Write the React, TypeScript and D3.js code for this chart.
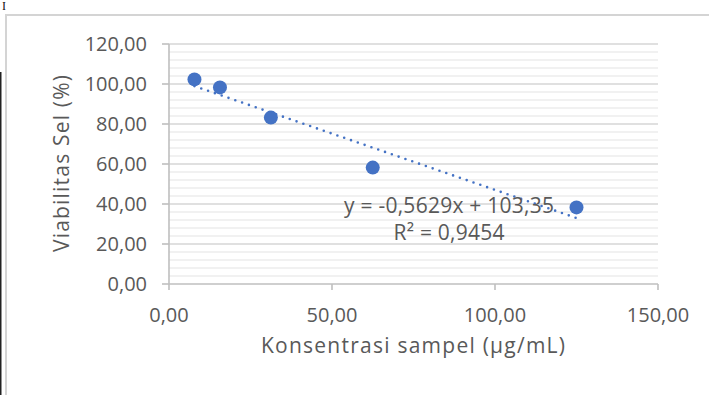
import React from "react";
import * as d3 from "d3";

const concentrations = [7.81, 15.63, 31.25, 62.5, 125];
const viability = [102.3, 98.3, 83.2, 58.2, 38.3];
const slope = -0.5629;
const intercept = 103.35;
const equationLines = ["y = -0,5629x + 103,35", "R² = 0,9454"];
const xTicks = [0, 50, 100, 150];
const yTicks = [0, 20, 40, 60, 80, 100, 120];
const xTitle = "Konsentrasi sampel (µg/mL)";
const yTitle = "Viabilitas Sel (%)";

const W = 709;
const H = 395;
const left = 169;
const right = 658;
const top = 44;
const bottom = 284;
const FONT = "'Open Sans', Lato, sans-serif";
const TXT = "#595959";
const BLUE = "#4472c4";
const FS = 20;
const FT = 21;
const eqWidths = [210, 111];

const fmt = (v: number) => v.toFixed(2).replace(".", ",");

export default function App() {
  const x = d3.scaleLinear().domain([0, 150]).range([left, right]);
  const y = d3.scaleLinear().domain([0, 120]).range([bottom, top]);
  const minor = d3.range(0, 121, 4).filter((v) => v % 20 !== 0);
  const xs = d3.extent(concentrations) as [number, number];
  const trend = d3
    .line<number>()
    .x((d) => x(d))
    .y((d) => y(slope * d + intercept))(xs);

  return (
    <div style={{ position: "absolute", left: 0, top: 0, width: W, height: H, background: "#fff" }}>
      <svg width={W} height={H} style={{ display: "block" }}>
        <rect x={0} y={0} width={W} height={H} fill="#fff" />
        {/* page artefacts */}
        <text x={2} y={10} fontFamily="'Liberation Serif', serif" fontSize={12} fill="#111">I</text>
        <line x1={0.75} x2={0.75} y1={72} y2={H} stroke="#222" strokeWidth={1.5} />
        {/* chart border */}
        <line x1={5} x2={W} y1={15} y2={15} stroke="#d4d4d4" strokeWidth={2} />
        <line x1={6} x2={6} y1={14} y2={H} stroke="#d4d4d4" strokeWidth={2} />

        {/* minor grid */}
        {minor.map((v) => (
          <line key={"m" + v} x1={left} x2={right} y1={y(v)} y2={y(v)} stroke="#ededed" strokeWidth={1.3} />
        ))}
        {/* major grid */}
        {yTicks.filter((v) => v > 0).map((v) => (
          <line key={"g" + v} x1={left} x2={right} y1={y(v)} y2={y(v)} stroke="#d6d6d6" strokeWidth={1.6} />
        ))}
        {/* axes */}
        <line x1={left} x2={left} y1={top} y2={bottom} stroke="#bfbfbf" strokeWidth={1.6} />
        <line x1={left} x2={right} y1={bottom} y2={bottom} stroke="#bfbfbf" strokeWidth={1.6} />
        {yTicks.map((v) => (
          <g key={"yt" + v}>
            <line x1={left - 7} x2={left} y1={y(v)} y2={y(v)} stroke="#bfbfbf" strokeWidth={1.6} />
            <text x={147} y={y(v)} dy="0.36em" textAnchor="end" fontFamily={FONT} fontSize={FS} fill={TXT}>
              {fmt(v)}
            </text>
          </g>
        ))}
        {xTicks.map((v) => (
          <g key={"xt" + v}>
            <line x1={x(v)} x2={x(v)} y1={bottom} y2={bottom + 6} stroke="#bfbfbf" strokeWidth={1.6} />
            <text x={x(v)} y={322} textAnchor="middle" fontFamily={FONT} fontSize={FS} fill={TXT}>
              {fmt(v)}
            </text>
          </g>
        ))}

        {/* trendline */}
        <path d={trend || ""} fill="none" stroke={BLUE} strokeWidth={2.6} strokeDasharray="0 7.2" strokeLinecap="round" />

        {/* points */}
        {concentrations.map((c, i) => (
          <circle key={"p" + i} cx={x(c)} cy={y(viability[i])} r={7} fill={BLUE} />
        ))}

        {/* equation */}
        {equationLines.map((t, i) => (
          <text
            key={"eq" + i}
            x={449 - eqWidths[i] / 2}
            y={213 + i * 27}
            textLength={eqWidths[i]}
            lengthAdjust="spacing"
            fontFamily={FONT}
            fontSize={FT}
            fill={TXT}
          >
            {t}
          </text>
        ))}

        {/* axis titles */}
        <text x={261} y={353} textLength={304} lengthAdjust="spacing" fontFamily={FONT} fontSize={FT} fill={TXT}>
          {xTitle}
        </text>
        <text
          transform={`translate(69,252) rotate(-90)`}
          textLength={177}
          lengthAdjust="spacing"
          fontFamily={FONT}
          fontSize={FT}
          fill={TXT}
        >
          {yTitle}
        </text>
      </svg>
    </div>
  );
}
